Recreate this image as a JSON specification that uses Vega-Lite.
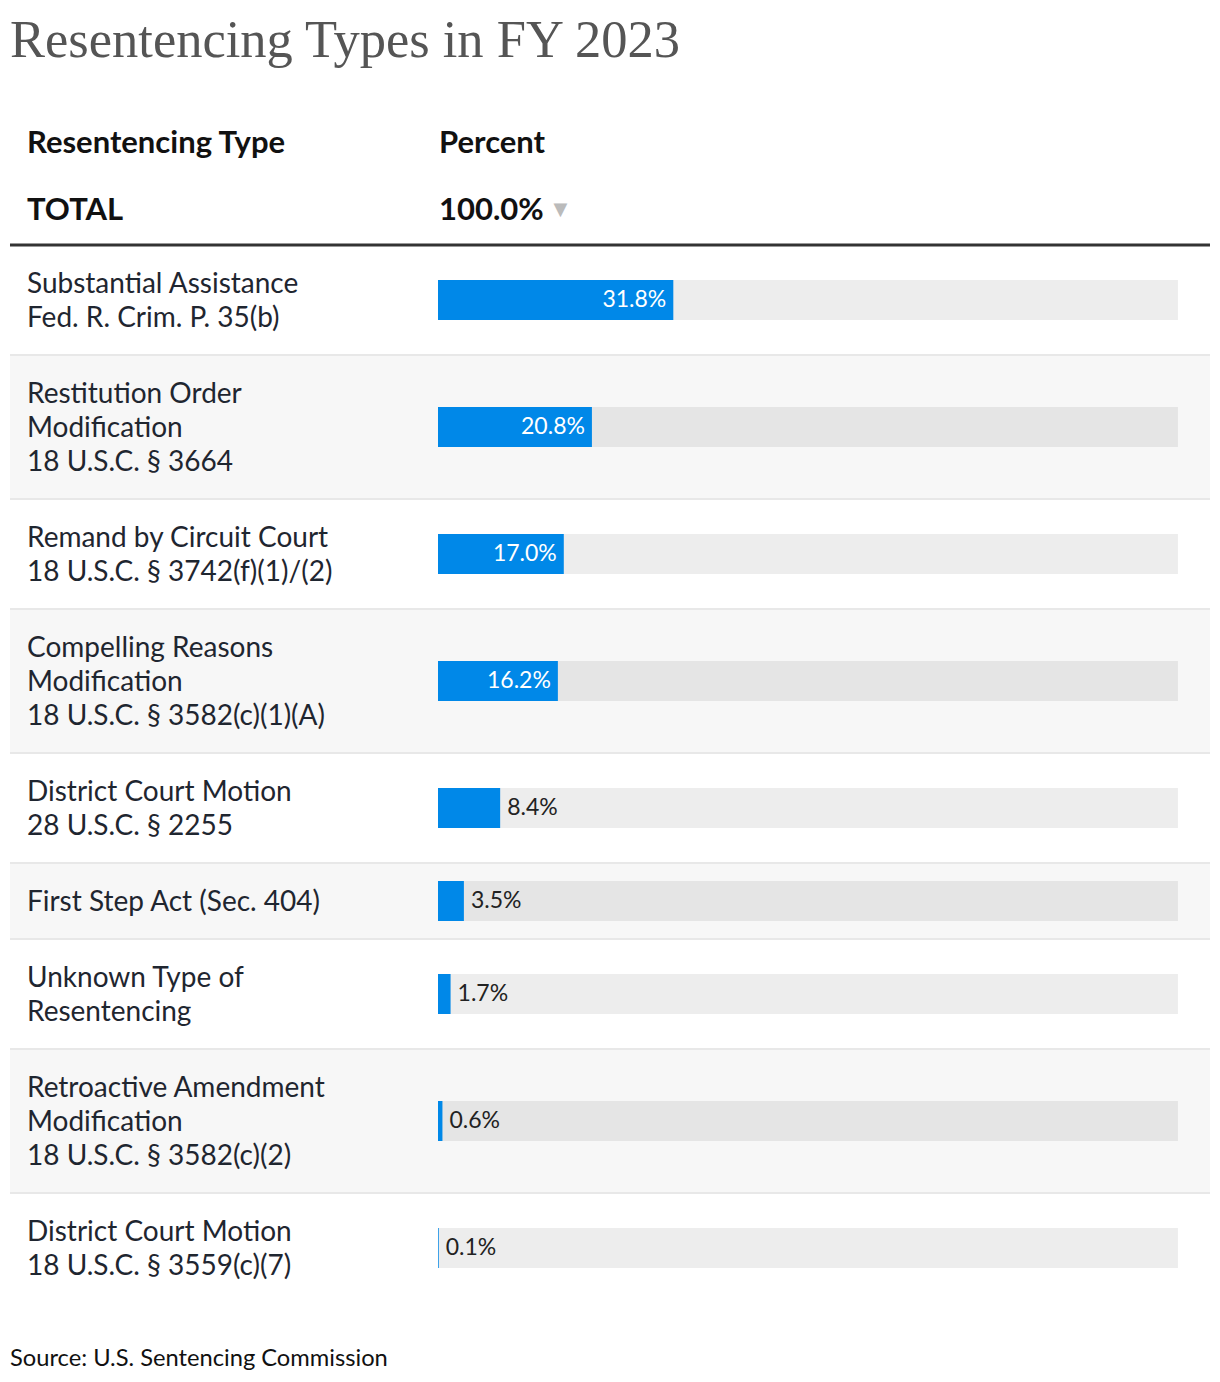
{
  "$schema": "https://vega.github.io/schema/vega-lite/v6.json",
  "width": 1220,
  "height": 1302,
  "padding": {"top": 14, "left": 0, "right": 0, "bottom": 0},
  "background": "white",
  "config": {"view": {"stroke": null}, "text": {"font": "Lato"}},
  "title": {
    "text": "Resentencing Types in FY 2023",
    "anchor": "start",
    "frame": "group",
    "font": "Liberation Serif",
    "fontSize": 52.5,
    "fontWeight": "normal",
    "color": "#555555",
    "dx": 10,
    "offset": 14
  },
  "data": {
    "values": [
      {"label": "Substantial Assistance\nFed. R. Crim. P. 35(b)", "pct": 31.8},
      {"label": "Restitution Order\nModification\n18 U.S.C. § 3664", "pct": 20.8},
      {"label": "Remand by Circuit Court\n18 U.S.C. § 3742(f)(1)/(2)", "pct": 17.0},
      {"label": "Compelling Reasons\nModification\n18 U.S.C. § 3582(c)(1)(A)", "pct": 16.2},
      {"label": "District Court Motion\n28 U.S.C. § 2255", "pct": 8.4},
      {"label": "First Step Act (Sec. 404)", "pct": 3.5},
      {"label": "Unknown Type of\nResentencing", "pct": 1.7},
      {"label": "Retroactive Amendment\nModification\n18 U.S.C. § 3582(c)(2)", "pct": 0.6},
      {"label": "District Court Motion\n18 U.S.C. § 3559(c)(7)", "pct": 0.1}
    ]
  },
  "transform": [
    {"calculate": "length(split(datum.label, '\\n'))", "as": "lines"},
    {"calculate": "34 * datum.lines + 42", "as": "h"},
    {"window": [{"op": "row_number", "as": "rank"}, {"op": "sum", "field": "h", "as": "y1"}], "sort": [{"field": "pct", "order": "descending"}], "frame": [null, 0]},
    {"calculate": "datum.y1 - datum.h", "as": "y0"},
    {"calculate": "(datum.y0 + datum.y1) / 2", "as": "yc"},
    {"calculate": "datum.yc - 17 * (datum.lines - 1) + 2", "as": "ylab"},
    {"calculate": "format(datum.pct, '.1f') + '%'", "as": "valueLabel"}
  ],
  "layer": [
    {
      "transform": [{"filter": "datum.rank % 2 == 0"}],
      "mark": {"type": "rect", "fill": "#f7f7f7"},
      "encoding": {
        "x": {"datum": -57.838, "type": "quantitative", "scale": {"domain": [-59.189, 105.676], "nice": false, "zero": false}, "axis": null},
        "x2": {"datum": 104.324},
        "y": {"field": "y0", "type": "quantitative", "scale": {"domain": [-163, 1139], "nice": false, "zero": false, "reverse": true}, "axis": null},
        "y2": {"field": "y1"}
      }
    },
    {
      "transform": [{"filter": "datum.rank < 9"}],
      "mark": {"type": "rule", "stroke": "#e8e8e8", "strokeWidth": 2},
      "encoding": {
        "x": {"datum": -57.838, "type": "quantitative"},
        "x2": {"datum": 104.324},
        "y": {"field": "y1", "type": "quantitative"}
      }
    },
    {
      "mark": {"type": "rule", "stroke": "#000000", "strokeOpacity": 0.07, "strokeWidth": 40, "strokeCap": "butt"},
      "encoding": {
        "x": {"datum": 0, "type": "quantitative"},
        "x2": {"datum": 100},
        "y": {"field": "yc", "type": "quantitative"}
      }
    },
    {
      "mark": {"type": "rule", "stroke": "#0088e8", "strokeWidth": 40, "strokeCap": "butt"},
      "encoding": {
        "x": {"field": "pct", "type": "quantitative"},
        "x2": {"datum": 0},
        "y": {"field": "yc", "type": "quantitative"}
      }
    },
    {
      "transform": [{"filter": "datum.pct >= 10"}],
      "mark": {"type": "text", "align": "right", "baseline": "middle", "dx": -7, "fontSize": 23, "color": "white"},
      "encoding": {
        "x": {"field": "pct", "type": "quantitative"},
        "y": {"field": "yc", "type": "quantitative"},
        "text": {"field": "valueLabel", "type": "nominal"}
      }
    },
    {
      "transform": [{"filter": "datum.pct < 10"}],
      "mark": {"type": "text", "align": "left", "baseline": "middle", "dx": 7, "fontSize": 23, "color": "#222222"},
      "encoding": {
        "x": {"field": "pct", "type": "quantitative"},
        "y": {"field": "yc", "type": "quantitative"},
        "text": {"field": "valueLabel", "type": "nominal"}
      }
    },
    {
      "mark": {"type": "text", "align": "left", "baseline": "middle", "fontSize": 28, "lineHeight": 34, "lineBreak": "\n", "color": "#1f2630"},
      "encoding": {
        "x": {"datum": -55.54, "type": "quantitative"},
        "y": {"field": "ylab", "type": "quantitative"},
        "text": {"field": "label", "type": "nominal"}
      }
    },
    {
      "data": {"values": [{}]},
      "mark": {"type": "rule", "stroke": "#333333", "strokeWidth": 3},
      "encoding": {
        "x": {"datum": -57.838, "type": "quantitative"},
        "x2": {"datum": 104.324},
        "y": {"datum": 0, "type": "quantitative"}
      }
    },
    {
      "data": {"values": [{}]},
      "mark": {"type": "text", "align": "left", "baseline": "middle", "fontSize": 31, "fontWeight": "bold", "color": "#111111", "text": "Resentencing Type"},
      "encoding": {
        "x": {"datum": -55.54, "type": "quantitative"},
        "y": {"datum": -101, "type": "quantitative"}
      }
    },
    {
      "data": {"values": [{}]},
      "mark": {"type": "text", "align": "left", "baseline": "middle", "fontSize": 31, "fontWeight": "bold", "color": "#111111", "text": "Percent"},
      "encoding": {
        "x": {"datum": 0.135, "type": "quantitative"},
        "y": {"datum": -101, "type": "quantitative"}
      }
    },
    {
      "data": {"values": [{}]},
      "mark": {"type": "text", "align": "left", "baseline": "middle", "fontSize": 31, "fontWeight": "bold", "color": "#111111", "text": "TOTAL"},
      "encoding": {
        "x": {"datum": -55.54, "type": "quantitative"},
        "y": {"datum": -34, "type": "quantitative"}
      }
    },
    {
      "data": {"values": [{}]},
      "mark": {"type": "text", "align": "left", "baseline": "middle", "fontSize": 31, "fontWeight": "bold", "color": "#111111", "text": "100.0%"},
      "encoding": {
        "x": {"datum": 0.135, "type": "quantitative"},
        "y": {"datum": -34, "type": "quantitative"}
      }
    },
    {
      "data": {"values": [{}]},
      "mark": {"type": "text", "align": "left", "baseline": "middle", "fontSize": 18, "color": "#bbbbbb", "text": "▼", "font": "DejaVu Sans"},
      "encoding": {
        "x": {"datum": 15.6, "type": "quantitative"},
        "y": {"datum": -35, "type": "quantitative"}
      }
    },
    {
      "data": {"values": [{}]},
      "mark": {"type": "text", "align": "left", "baseline": "middle", "fontSize": 23.7, "color": "#111111", "text": "Source: U.S. Sentencing Commission"},
      "encoding": {
        "x": {"datum": -57.838, "type": "quantitative"},
        "y": {"datum": 1114, "type": "quantitative"}
      }
    }
  ]
}
